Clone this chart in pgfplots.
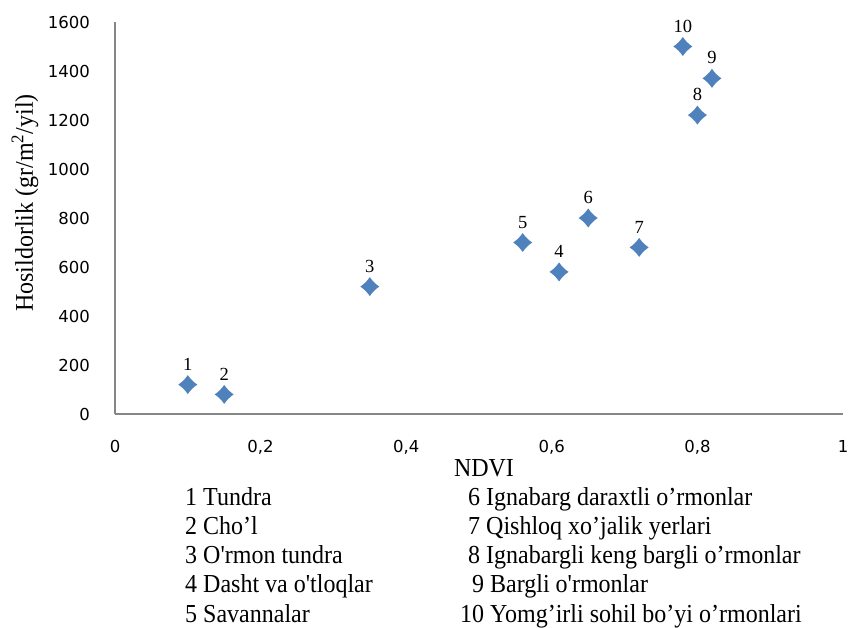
\documentclass[border=0pt]{standalone}
\usepackage{pgfplots}
\pgfplotsset{compat=1.18}
\usepackage{fontspec}
\setmainfont{Liberation Serif}[Ligatures=TeXOff]
\newfontfamily\tickfont{DejaVu Sans}
\definecolor{ptblue}{HTML}{4F81BD}
\definecolor{axgray}{HTML}{868686}
\pgfdeclareplotmark{dstar}{%
 \pgfpathmoveto{\pgfpoint{0pt}{\pgfplotmarksize}}%
 \pgfpathquadraticcurveto{\pgfpoint{0.4\pgfplotmarksize}{0.4\pgfplotmarksize}}{\pgfpoint{\pgfplotmarksize}{0pt}}%
 \pgfpathquadraticcurveto{\pgfpoint{0.4\pgfplotmarksize}{-0.4\pgfplotmarksize}}{\pgfpoint{0pt}{-\pgfplotmarksize}}%
 \pgfpathquadraticcurveto{\pgfpoint{-0.4\pgfplotmarksize}{-0.4\pgfplotmarksize}}{\pgfpoint{-\pgfplotmarksize}{0pt}}%
 \pgfpathquadraticcurveto{\pgfpoint{-0.4\pgfplotmarksize}{0.4\pgfplotmarksize}}{\pgfpoint{0pt}{\pgfplotmarksize}}%
 \pgfpathclose
 \pgfusepathqfill
}
\pgfplotstableread{
x y label
0.10 120 1
0.15 80 2
0.35 520 3
0.61 580 4
0.56 700 5
0.65 800 6
0.72 680 7
0.80 1220 8
0.82 1370 9
0.78 1500 10
}\datatable
\begin{document}
\begin{tikzpicture}
\useasboundingbox (-115pt,-213pt) rectangle (733pt,414pt);
\begin{axis}[
  scale only axis,
  width=728pt, height=392pt,
  xmin=0, xmax=1, ymin=0, ymax=1600,
  xtick={0,0.2,0.4,0.6,0.8,1},
  ytick={0,200,...,1600},
  axis x line=bottom, axis y line=left,
  axis line style={-, axgray, line width=1.3pt},
  major tick length=0pt,
  clip=false,
  /pgf/number format/assume math mode=true,
  xticklabel style={font=\tickfont\fontsize{16.5}{18}\selectfont, text=black, anchor=base, yshift=-38pt,
     /pgf/number format/use comma},
  yticklabel style={font=\tickfont\fontsize{16.5}{18}\selectfont, text=black, anchor=east, inner sep=0pt, xshift=-25pt,
     /pgf/number format/1000 sep={}},
]
\addplot[only marks, mark=dstar, mark size=9.5pt, color=ptblue,
  point meta=explicit symbolic,
  nodes near coords,
  nodes near coords style={anchor=south, inner sep=0pt, yshift=14pt, text=black, font=\fontsize{18.5}{20}\selectfont}]
  table[x=x, y=y, meta=label] {\datatable};
\end{axis}
\node[rotate=90, anchor=base, yscale=1.06, font=\fontsize{24}{28}\selectfont] at (-82pt,211pt) {Hosildorlik (gr/m\textsuperscript{2}/yil)};
\node[anchor=base, yscale=1.08, font=\fontsize{24}{28}\selectfont] at (369pt,-62pt) {NDVI};
\begin{scope}[every node/.style={anchor=base west, inner sep=0pt, yscale=1.08, font=\fontsize{24}{28}\selectfont}]
\node at (70pt,-91pt) {1 Tundra};
\node at (70pt,-120.3pt) {2 Cho’l};
\node at (70pt,-149.6pt) {3 O'rmon tundra};
\node at (70pt,-178.9pt) {4 Dasht va o'tloqlar};
\node at (70pt,-208.2pt) {5 Savannalar};
\node at (353pt,-91pt) {6 Ignabarg daraxtli o’rmonlar};
\node at (353pt,-120.3pt) {7 Qishloq xo’jalik yerlari};
\node at (353pt,-149.6pt) {8 Ignabargli keng bargli o’rmonlar};
\node at (357pt,-178.9pt) {9 Bargli o'rmonlar};
\node at (345pt,-208.2pt) {10 Yomg’irli sohil bo’yi o’rmonlari};
\end{scope}
\end{tikzpicture}
\end{document}
